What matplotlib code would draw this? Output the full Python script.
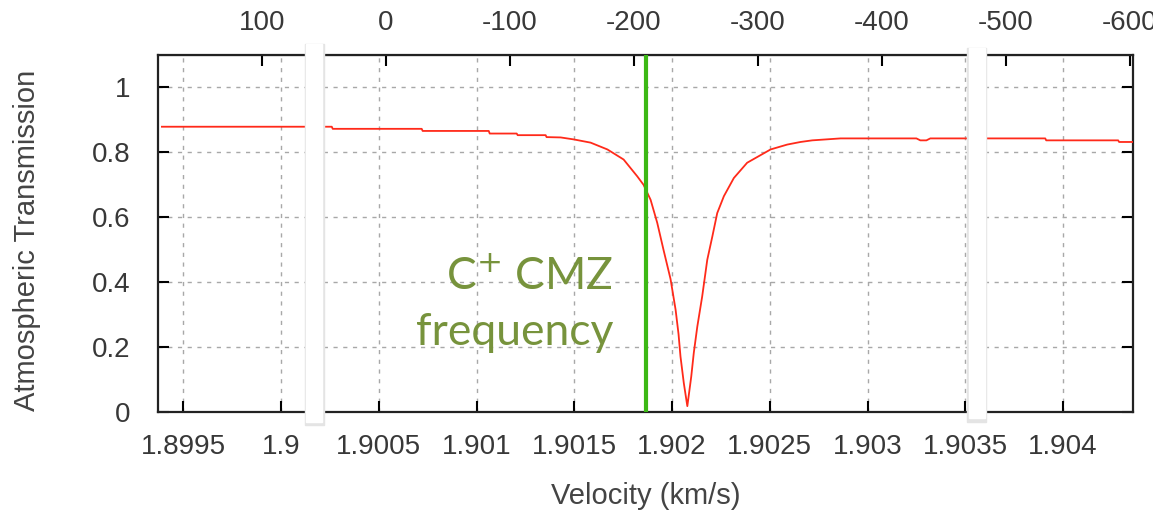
import matplotlib.pyplot as plt
from matplotlib.patches import Rectangle

plt.rcParams['axes.unicode_minus'] = False

# atmospheric transmission (frequency in THz)
freq = [1.899390, 1.900259, 1.900264, 1.900719, 1.900724, 1.901062, 1.901067,
        1.901205, 1.901210, 1.901353, 1.901358, 1.901430, 1.901496, 1.901583,
        1.901669, 1.901752, 1.901822, 1.901854, 1.901890, 1.901924, 1.901956,
        1.901992, 1.902018, 1.902033, 1.902043, 1.902060, 1.902078, 1.902098,
        1.902111, 1.902129, 1.902154, 1.902180, 1.902206, 1.902231, 1.902265,
        1.902316, 1.902384, 1.902504, 1.902589, 1.902657, 1.902717, 1.902862,
        1.903250, 1.903270, 1.903301, 1.903321, 1.903909, 1.903914, 1.904282,
        1.904287, 1.904358]
trans = [0.879, 0.879, 0.8725, 0.8725, 0.866, 0.866, 0.858,
         0.858, 0.853, 0.853, 0.847, 0.846, 0.840, 0.830,
         0.809, 0.778, 0.726, 0.700, 0.654, 0.583, 0.500,
         0.410, 0.315, 0.240, 0.171, 0.089, 0.018, 0.109,
         0.182, 0.263, 0.356, 0.469, 0.541, 0.613, 0.665,
         0.721, 0.768, 0.809, 0.824, 0.832, 0.837, 0.843,
         0.843, 0.837, 0.837, 0.843, 0.843, 0.837, 0.837,
         0.832, 0.832]

freq_ticks = [1.8995, 1.9, 1.9005, 1.901, 1.9015, 1.902, 1.9025, 1.903, 1.9035, 1.904]
freq_labels = ['1.8995', '1.9', '1.9005', '1.901', '1.9015', '1.902', '1.9025', '1.903', '1.9035', '1.904']
vel_ticks = [100, 0, -100, -200, -300, -400, -500, -600]
y_ticks = [0, 0.2, 0.4, 0.6, 0.8, 1]
y_labels = ['0', '0.2', '0.4', '0.6', '0.8', '1']

f0 = 1.9005369      # C+ rest frequency, THz
c_kms = 299792.458
cmz_velocity = -210  # km/s
overlay_freqs = [1.90017, 1.90356]

def f2v(f):
    return c_kms * (f0 - f) / f0

def v2f(v):
    return f0 * (1 - v / c_kms)

fig = plt.figure(figsize=(11.53, 5.13), dpi=100)
ax = fig.add_axes([158 / 1153, 101 / 513, 975 / 1153, 357 / 513])

tick_font = dict(family='Liberation Sans', size=20, color='#383838')

ax.plot(freq, trans, color='#ff2a1a', lw=1.3, zorder=3)
ax.axvline(v2f(cmz_velocity), color='#3cb815', lw=3, zorder=4)

ax.text(v2f(cmz_velocity) - 0.00017, 0.415, 'C$^{+}$ CMZ', ha='right', va='center',
        fontsize=32, color='#77933c', family='Lato')
ax.text(v2f(cmz_velocity) - 0.00017, 0.245, 'frequency', ha='right', va='center',
        fontsize=32, color='#77933c', family='Lato')

ax.set_xlim(1.89937, 1.904358)
ax.set_ylim(0, 1.1)
ax.set_xticks(freq_ticks)
ax.set_xticklabels(freq_labels, fontdict=tick_font)
ax.set_yticks(y_ticks)
ax.set_yticklabels(y_labels, fontdict=tick_font)
ax.tick_params(axis='x', direction='in', length=8, width=1.5, pad=16)
ax.tick_params(axis='y', direction='in', length=8, width=1.5, pad=20, right=True)
ax.grid(True, color='#a8a8a8', linestyle=(0, (3, 4)), lw=1)

for spine in ax.spines.values():
    spine.set_linewidth(1.6)
    spine.set_color('#222222')

top = ax.secondary_xaxis('top', functions=(f2v, v2f))
top.set_xticks(vel_ticks)
top.set_xticklabels([str(v) for v in vel_ticks], fontdict=tick_font)
top.tick_params(direction='in', length=8, width=1.5, pad=14)

ax.set_xlabel('Velocity (km/s)', fontsize=21, color='#444444',
              family='Liberation Sans', labelpad=16)
ax.set_ylabel('Atmospheric Transmission', fontsize=21, color='#444444',
              family='Liberation Sans')
ax.yaxis.set_label_coords(-0.12, 0.48)

# white overlay strips with a soft shadow
for f, ext in zip(overlay_freqs, [(-0.01, 1.03), (0.0, 1.02)]):
    xf = ax.transData.transform((f, 0))[0] / 1153
    w = 16 / 1153
    y0 = 101 / 513 + ext[0] * 357 / 513 - 0.012
    h = (ext[1] - ext[0]) * 357 / 513 + 0.012
    fig.patches.append(Rectangle((xf - w / 2 - 0.0015, y0 - 0.007), w + 0.0025, h + 0.007,
                                 transform=fig.transFigure, color='#e4e4e4', zorder=10))
    fig.patches.append(Rectangle((xf - w / 2, y0), w, h,
                                 transform=fig.transFigure, color='white', zorder=11))

plt.savefig('out.png', dpi=100)
